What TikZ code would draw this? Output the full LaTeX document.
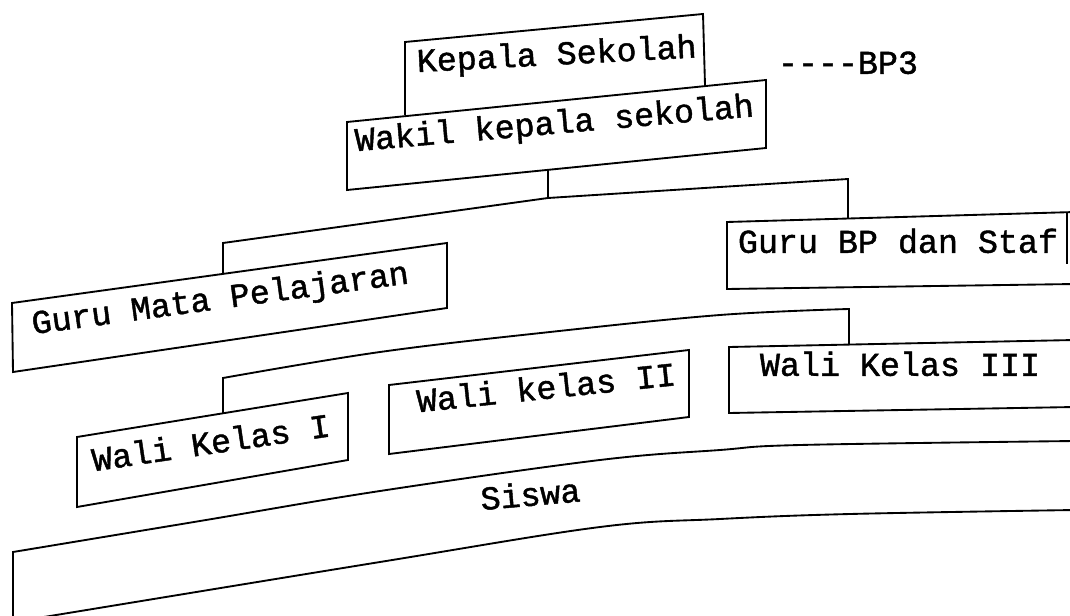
\documentclass[tikz,border=0pt]{standalone}
\usepackage{fontspec}
\newfontfamily\dotmono{Liberation Mono}[BoldFont={Liberation Mono}, BoldFeatures={FakeBold=1.3}]
\begin{document}
\begin{tikzpicture}[x=0.75pt,y=-0.75pt,
  edge/.style={line width=1.4pt, line join=miter, line cap=butt},
  lbl/.style={font=\dotmono\bfseries\fontsize{25}{25}\selectfont, inner sep=0pt,
              text height=0.57em, text depth=0pt, anchor=center}]
\useasboundingbox (0,0) rectangle (1070,616);
\begin{scope}
\clip (0,0) rectangle (1070,616);
% --- box corners ---
\coordinate (kpTL) at (405,42);  \coordinate (kpTR) at (703,14);
\coordinate (kpBL) at (405,115); \coordinate (kpBR) at (705,85);
\coordinate (wkTL) at (347,122); \coordinate (wkTR) at (766,80);
\coordinate (wkBR) at (766,148); \coordinate (wkBL) at (347,190);
\coordinate (wkS)  at (548,169); \coordinate (c1S) at (548,198);
\coordinate (c1L)  at (223,243); \coordinate (c1R) at (848,179);
\coordinate (gbT)  at (848,219);
\coordinate (gmT)  at (223,274);
\coordinate (gmTL) at (12,303);  \coordinate (gmTR) at (447,243);
\coordinate (gmBR) at (447,308); \coordinate (gmBL) at (13,372);
\coordinate (gbTL) at (727,222); \coordinate (gbTR) at (1075,212);
\coordinate (gbBL) at (727,289); \coordinate (gbBR) at (1075,284);
\coordinate (gbRa) at (1067,212); \coordinate (gbRb) at (1067,264);
\coordinate (c2L)  at (223,378); \coordinate (c2R) at (849,309);
\coordinate (w1T)  at (223,413); \coordinate (w3T) at (849,345);
\coordinate (w1TL) at (77,437);  \coordinate (w1TR) at (348,393);
\coordinate (w1BR) at (348,460); \coordinate (w1BL) at (77,507);
\coordinate (w2TL) at (389,385); \coordinate (w2TR) at (689,350);
\coordinate (w2BR) at (689,417); \coordinate (w2BL) at (389,454);
\coordinate (w3TL) at (729,347); \coordinate (w3TR) at (1075,340);
\coordinate (w3BL) at (729,413); \coordinate (w3BR) at (1075,407);
\coordinate (sTL)  at (13,552);  \coordinate (sBL) at (13,622);

% --- boxes ---
\draw[edge] (kpBL) -- (kpTL) -- (kpTR) -- (kpBR);
\draw[edge] (wkTL) -- (wkTR) -- (wkBR) -- (wkBL) -- cycle;
\draw[edge] (gmTL) -- (gmTR) -- (gmBR) -- (gmBL) -- cycle;
\draw[edge] (gbTR) -- (gbTL) -- (gbBL) -- (gbBR);
\draw[edge] (gbRa) -- (gbRb);
\draw[edge] (w1TL) -- (w1TR) -- (w1BR) -- (w1BL) -- cycle;
\draw[edge] (w2TL) -- (w2TR) -- (w2BR) -- (w2BL) -- cycle;
\draw[edge] (w3TR) -- (w3TL) -- (w3BL) -- (w3BR);
% Siswa band
\draw[edge] (sBL) -- (sTL) -- plot[smooth, tension=0.6] coordinates
  {(sTL) (200,521) (380,491) (600,460) (720,450) (800,445) (1075,441)};
\draw[edge] plot[smooth, tension=0.6] coordinates
  {(sBL) (50,616) (380,562) (600,527) (720,519) (850,514) (1075,510)};

% --- connectors ---
\draw[edge] (wkS) -- (c1S);
\draw[edge] (gmT) -- (c1L) -- (c1S) -- (720,187) -- (c1R) -- (gbT);
\draw[edge] (w1T) -- (c2L) -- plot[smooth, tension=0.6] coordinates
  {(c2L) (380,352) (550,332) (720,315) (c2R)} -- (w3T);

% --- labels ---
\node[lbl, rotate=3]   (kepala) at (557,61)  {Kepala Sekolah};
\node[lbl, rotate=5]   (wakil)  at (555,130) {Wakil kepala sekolah};
\node[lbl]             (bp3)    at (848,70)  {----BP3};
\node[lbl, rotate=7.7] (gmp)    at (221,305) {Guru Mata Pelajaran};
\node[lbl]             (gbp)    at (898,249) {Guru BP dan Staf};
\node[lbl, rotate=8.4] (wk1)    at (212,450) {Wali Kelas I};
\node[lbl, rotate=6]   (wk2)    at (547,395) {Wali kelas II};
\node[lbl]             (wk3)    at (900,372) {Wali Kelas III};
\node[lbl, rotate=5]   (siswa)  at (531,502) {Siswa};
\end{scope}
\end{tikzpicture}
\end{document}
